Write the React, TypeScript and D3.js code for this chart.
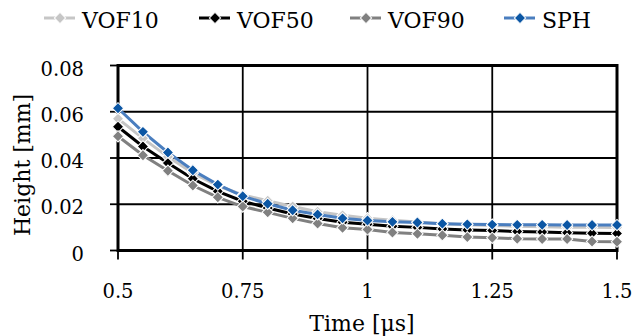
import React from "react";
import * as d3 from "d3";

const times = [0.5, 0.55, 0.6, 0.65, 0.7, 0.75, 0.8, 0.85, 0.9, 0.95, 1.0, 1.05, 1.1, 1.15, 1.2, 1.25, 1.3, 1.35, 1.4, 1.45, 1.5];
const vof10 = [0.0570, 0.0485, 0.0405, 0.0335, 0.0280, 0.0240, 0.0215, 0.0190, 0.0168, 0.0152, 0.0140, 0.0131, 0.0123, 0.0116, 0.0111, 0.0108, 0.0105, 0.0103, 0.0101, 0.0100, 0.0099];
const vof50 = [0.0535, 0.0450, 0.0378, 0.0310, 0.0256, 0.0213, 0.0184, 0.0158, 0.0138, 0.0122, 0.0113, 0.0105, 0.0100, 0.0093, 0.0089, 0.0086, 0.0082, 0.0080, 0.0077, 0.0075, 0.0074];
const vof90 = [0.0494, 0.0412, 0.0345, 0.0281, 0.0230, 0.0190, 0.0165, 0.0139, 0.0117, 0.0098, 0.0091, 0.0078, 0.0072, 0.0066, 0.0058, 0.0055, 0.0051, 0.0050, 0.0050, 0.0039, 0.0038];
const sph = [0.0615, 0.0513, 0.0424, 0.0347, 0.0285, 0.0235, 0.0202, 0.0174, 0.0156, 0.0139, 0.0130, 0.0124, 0.0121, 0.0116, 0.0113, 0.0112, 0.0111, 0.0111, 0.0110, 0.0110, 0.0110];

const seriesNames = ["VOF10", "VOF50", "VOF90", "SPH"];
const xTicks = [0.5, 0.75, 1, 1.25, 1.5];
const xTickLabels = ["0.5", "0.75", "1", "1.25", "1.5"];
const yTicks = [0, 0.02, 0.04, 0.06, 0.08];
const yTickLabels = ["0", "0.02", "0.04", "0.06", "0.08"];

const lineColors = ["#c6c6c6", "#000000", "#808080", "#4a7ebf"];
const markerColors = ["#c6c6c6", "#000000", "#808080", "#0b56a4"];
const legendText = [82, 237, 388, 542];

const FONT = "'DejaVu Serif', 'Liberation Serif', serif";

export default function App() {
  const W = 632, H = 336;
  const x = d3.scaleLinear().domain([0.5, 1.5]).range([118, 617]);
  const y = d3.scaleLinear().domain([0, 0.08]).range([250.5, 65.5]);
  const data = [vof10, vof50, vof90, sph];
  const line = d3.line<number>().x((_, i) => x(times[i])).y((d) => y(d));
  const marker = d3.symbol().type(d3.symbolSquare).size(64)();

  return (
    <svg width={W} height={H} style={{ position: "absolute", left: 0, top: 0 }}>
      <rect width={W} height={H} fill="#fff" />
      {yTicks.slice(1, -1).map((t) => (
        <line key={"gy" + t} x1={x(0.5)} x2={x(1.5)} y1={y(t)} y2={y(t)} stroke="#000" strokeWidth={1.8} />
      ))}
      {xTicks.slice(1, -1).map((t) => (
        <line key={"gx" + t} x1={x(t)} x2={x(t)} y1={y(0.08)} y2={y(0)} stroke="#000" strokeWidth={1.8} />
      ))}
      {yTicks.map((t) => (
        <line key={"ty" + t} x1={x(0.5) - 8} x2={x(0.5)} y1={y(t)} y2={y(t)} stroke="#000" strokeWidth={1.8} />
      ))}
      {xTicks.map((t) => (
        <line key={"tx" + t} x1={x(t)} x2={x(t)} y1={y(0)} y2={y(0) + 9} stroke="#000" strokeWidth={1.8} />
      ))}
      <rect x={x(0.5)} y={y(0.08)} width={x(1.5) - x(0.5)} height={y(0) - y(0.08)} fill="none" stroke="#000" strokeWidth={3} />
      {data.map((s, k) => (
        <path key={"l" + k} d={line(s) || ""} fill="none" stroke={lineColors[k]} strokeWidth={3} />
      ))}
      {data.map((s, k) => (
        <g key={"m" + k}>
          {s.map((v, i) => (
            <path key={i} d={marker || ""} transform={`translate(${x(times[i])},${y(v)}) rotate(45)`} fill={markerColors[k]} stroke="#fff" strokeWidth={1} />
          ))}
        </g>
      ))}
      {yTicks.map((t, i) => (
        <text key={"yl" + t} x={84} y={y(t) + 10} textAnchor="end" fontFamily={FONT} fontSize={19.5} fill="#000">{yTickLabels[i]}</text>
      ))}
      {xTicks.map((t, i) => (
        <text key={"xl" + t} x={x(t)} y={298} textAnchor="middle" fontFamily={FONT} fontSize={19.5} fill="#000">{xTickLabels[i]}</text>
      ))}
      <text x={362} y={331} textAnchor="middle" fontFamily={FONT} fontSize={22} fill="#000">Time [μs]</text>
      <text transform="translate(30,165) rotate(-90)" textAnchor="middle" fontFamily={FONT} fontSize={22} fill="#000">Height [mm]</text>
      {seriesNames.map((n, k) => (
        <g key={"lg" + k}>
          <line x1={legendText[k] - 38} x2={legendText[k] - 7} y1={18} y2={18} stroke={lineColors[k]} strokeWidth={3} />
          <path d={marker || ""} transform={`translate(${legendText[k] - 22},18) rotate(45)`} fill={markerColors[k]} stroke="#fff" strokeWidth={1} />
          <text x={legendText[k]} y={28} fontFamily={FONT} fontSize={22} fill="#000">{n}</text>
        </g>
      ))}
    </svg>
  );
}
